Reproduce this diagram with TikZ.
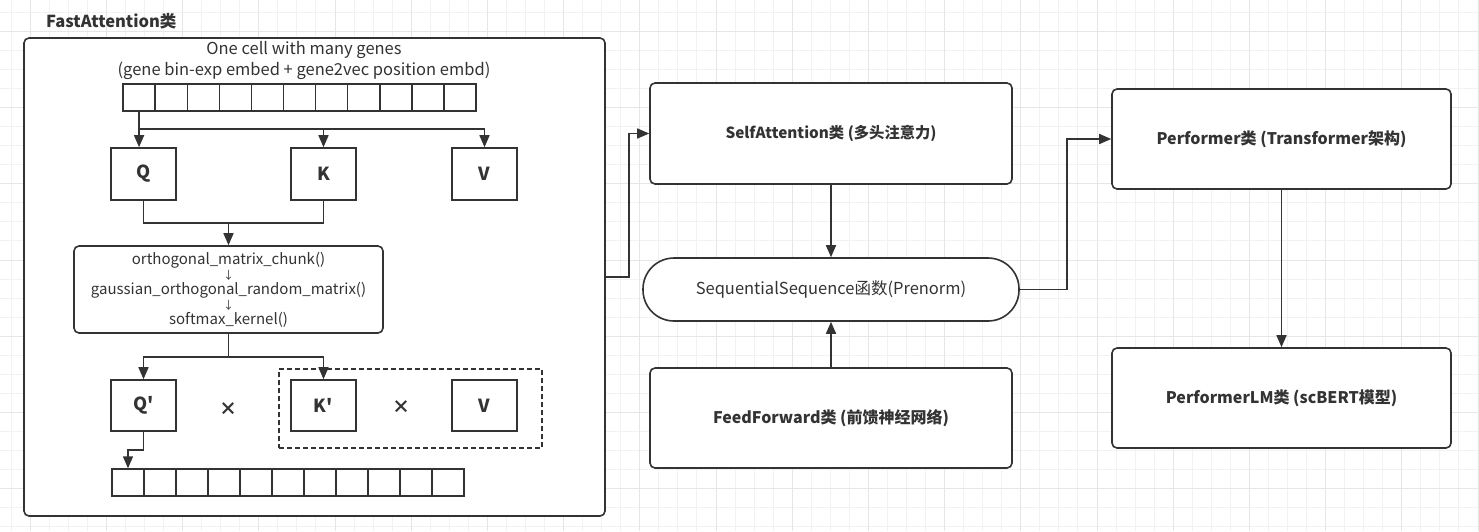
\documentclass[tikz,border=0pt]{standalone}
\usepackage{fontspec}
\setmainfont{Noto Sans CJK SC}
\usepackage{tikz}
\usetikzlibrary{arrows.meta}
\definecolor{lineg}{HTML}{333333}
\definecolor{gridmin}{HTML}{F2F2F2}
\definecolor{gridmaj}{HTML}{E6E6E6}

\begin{document}
\begin{tikzpicture}[x=1pt,y=-1pt,every node/.style={text=lineg},ink/.style={draw=lineg,line width=1.6pt},cell/.style={ink,fill=white,line width=1.4pt,minimum width=32pt,minimum height=27pt,inner sep=0pt},qkv/.style={ink,fill=white,minimum width=65pt,minimum height=52pt,inner sep=0pt,font=\fontsize{18}{20}\selectfont\bfseries},block/.style={ink,fill=white,rounded corners=5pt,inner sep=0pt,font=\fontsize{16}{18}\selectfont\bfseries},pill/.style={ink,fill=white,rounded corners=31pt,minimum width=376pt,minimum height=63pt,inner sep=0pt,font=\fontsize{16.5}{18}\selectfont},arr/.style={draw=lineg,line width=1.6pt,-{Triangle[length=12pt,width=10pt]}},timesop/.style={font=\fontsize{18}{18}\selectfont\bfseries}]
\def\cw{32.1};
\def\bw{32};

\useasboundingbox (0,0) rectangle (1479,531);
\fill[white] (0,0) rectangle (1479,531);
\foreach \gx in {11.15,30.2,...,1479} \draw[gridmin,line width=1pt] (\gx,0) -- (\gx,531);
\foreach \gy in {12.35,31.4,...,531} \draw[gridmin,line width=1pt] (0,\gy) -- (1479,\gy);
\foreach \gx in {30.2,106.4,...,1479} \draw[gridmaj,line width=1pt] (\gx,0) -- (\gx,531);
\foreach \gy in {31.4,107.6,...,531} \draw[gridmaj,line width=1pt] (0,\gy) -- (1479,\gy);

\node[anchor=west,inner sep=0pt,font=\fontsize{16.5}{20}\selectfont\bfseries] (title) at (46,21) {FastAttention类};
\node[ink,fill=white,rounded corners=5pt,minimum width=581pt,minimum height=478pt] (fast) at (314.5,277) {};
\node[align=center,font=\fontsize{16.5}{21}\selectfont] (hdr) at (304,60) {One cell with many genes\\(gene bin-exp embed + gene2vec position embd)};

\foreach \i in {1,...,11}
  \node[cell,minimum width=\cw pt] (t\i) at (139.05+\cw*\i-\cw,97.5) {};

\node[qkv] (Q) at (143.5,174) {Q};
\node[qkv] (K) at (323.5,174) {K};
\node[qkv] (V) at (484.5,174) {V};

\coordinate (fork) at (139.05,129);
\draw[arr] (t1.south) -- (t1.south |- Q.north);
\draw[arr] (fork) -| (V.north);
\draw[arr] (fork -| K.north) -- (K.north);

\node[block,font=\fontsize{15}{15}\selectfont,align=center,minimum width=309pt,minimum height=87pt] (orth) at (228.5,289.5) {orthogonal\_matrix\_chunk()\\{\fontsize{11}{15}\selectfont ↓}\\gaussian\_orthogonal\_random\_matrix()\\{\fontsize{11}{15}\selectfont ↓}\\softmax\_kernel()};
\coordinate (merge) at (228.5,223);
\draw[ink] (Q.south) |- (merge) -| (K.south);
\draw[arr] (merge) -- (orth.north);

\node[draw=lineg,line width=1.4pt,dash pattern=on 5pt off 3pt,minimum width=263pt,minimum height=79pt] (kv) at (410.5,408.5) {};
\node[qkv,minimum height=51pt] (Qp) at (143.5,405.5) {Q\textquotesingle};
\node[qkv,minimum height=51pt] (Kp) at (323.5,405.5) {K\textquotesingle};
\node[qkv,minimum height=51pt] (V2) at (484.5,405.5) {V};
\node[timesop] (x1) at (228.5,409) {×};
\node[timesop] (x2) at (401.6,407) {×};

\coordinate (split) at (228.5,357);
\draw[ink] (orth.south) -- (split);
\draw[arr] (split) -| (Qp.north);
\draw[arr] (split) -| (Kp.north);

\foreach \i in {1,...,11}
  \node[cell,minimum width=\bw pt] (b\i) at (96+\bw*\i,482.5) {};
\draw[arr] (Qp.south) -- ++(0,18) -| (b1.north);

\node[block,font=\fontsize{15.3}{18}\selectfont\bfseries,minimum width=362pt,minimum height=101pt] (sa) at (831,133.5) {SelfAttention类 (多头注意力)};
\node[pill] (seq) at (831,289.5) {SequentialSequence函数(Prenorm)};
\node[block,minimum width=362pt,minimum height=100pt] (ff) at (831,418) {FeedForward类 (前馈神经网络)};
\node[block,minimum width=339pt,minimum height=100pt] (perf) at (1281.5,139) {Performer类 (Transformer架构)};
\node[block,minimum width=339pt,minimum height=100pt] (plm) at (1281.5,398) {PerformerLM类 (scBERT模型)};

\draw[arr] (fast.east) -- ++(23,0) |- (sa.west);
\draw[arr] (sa.south) -- (seq.north);
\draw[arr] (ff.north) -- (seq.south);
\draw[arr] (seq.east) -- ++(47,0) |- (perf.west);
\draw[arr] (perf.south) -- (plm.north);

\end{tikzpicture}
\end{document}
